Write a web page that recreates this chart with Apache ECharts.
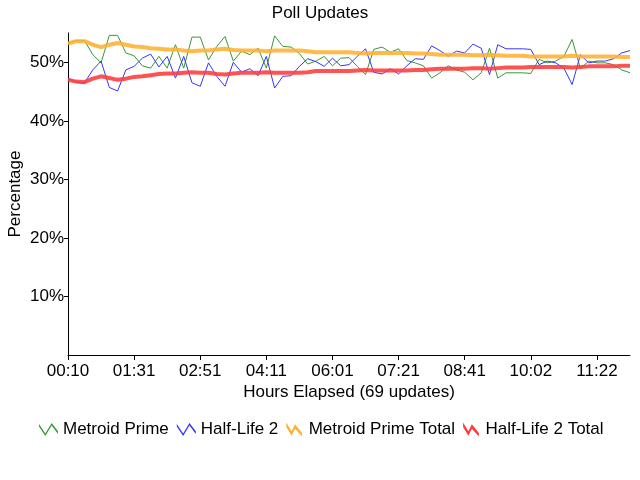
<!DOCTYPE html>
<html>
<head>
<meta charset="utf-8">
<script src="https://cdn.jsdelivr.net/npm/echarts@6/dist/echarts.min.js"></script>
<style>
html,body{margin:0;padding:0;background:#fff;}
#c{width:640px;height:480px;}
</style>
</head>
<body>
<div id="c"></div>
<script>
var timeLabels = [
 "00:10","00:20","00:30","00:40","00:50","01:00","01:10","01:20",
 "01:31","01:41","01:51","02:01","02:11","02:21","02:31","02:41",
 "02:51","03:01","03:11","03:21","03:31","03:41","03:51","04:01",
 "04:11","04:25","04:38","04:52","05:06","05:20","05:33","05:47",
 "06:01","06:11","06:21","06:31","06:41","06:51","07:01","07:11",
 "07:21","07:31","07:41","07:51","08:01","08:11","08:21","08:31",
 "08:41","08:51","09:01","09:11","09:21","09:31","09:41","09:51",
 "10:02","10:12","10:22","10:32","10:42","10:52","11:02","11:12",
 "11:22","11:32","11:42","11:52","12:02"
];
var metroidPrime = [
 53.3,53.7,53.7,51.3,49.9,54.6,54.6,51.6,51.1,49.4,
 49.0,51.0,49.0,53.0,49.0,54.3,54.3,50.4,52.7,54.4,
 50.2,51.9,51.3,52.4,49.0,54.5,52.7,52.6,51.5,49.7,
 50.2,51.0,49.4,50.7,50.8,49.3,47.9,52.2,52.6,51.7,
 52.3,50.3,49.9,49.4,47.3,48.2,49.4,48.7,48.3,47.0,
 48.2,52.4,47.3,48.2,48.2,48.2,48.1,50.5,49.9,50.2,
 51.0,53.9,48.9,50.2,49.9,49.9,49.6,48.7,48.2
];
var halfLife2 = [
 47.3,46.6,46.5,48.7,50.2,45.7,45.1,48.7,49.3,50.7,
 51.4,49.2,51.0,47.3,51.0,46.5,45.9,49.9,47.6,45.9,
 50.0,48.3,48.9,47.7,51.0,45.6,47.6,47.7,49.3,50.6,
 50.1,49.3,50.7,49.4,49.6,51.0,52.3,48.3,48.0,48.9,
 48.0,49.4,50.6,50.5,52.8,52.0,51.0,51.9,51.6,53.1,
 52.4,47.9,53.0,52.3,52.3,52.3,52.2,49.6,50.2,49.9,
 49.0,46.2,51.3,49.9,50.2,50.2,50.6,51.6,52.0
];
var metroidPrimeTotal = [
 53.2,53.6,53.6,53.0,52.6,53.0,53.3,53.0,52.7,52.6,
 52.4,52.3,52.2,52.2,52.0,51.9,52.0,52.0,52.2,52.3,
 52.1,52.0,52.0,52.0,51.9,52.0,52.0,52.0,52.0,51.9,
 51.7,51.7,51.7,51.7,51.7,51.6,51.5,51.6,51.6,51.6,
 51.6,51.6,51.5,51.5,51.4,51.3,51.3,51.3,51.3,51.2,
 51.2,51.3,51.2,51.1,51.1,51.1,51.0,51.0,51.0,51.0,
 51.0,51.1,51.0,51.0,51.0,51.0,51.0,50.9,50.9
];
var halfLife2Total = [
 47.0,46.7,46.6,47.2,47.6,47.3,47.0,47.2,47.5,47.6,
 47.8,48.0,48.1,48.1,48.2,48.3,48.2,48.2,48.0,47.9,
 48.1,48.2,48.2,48.2,48.3,48.2,48.2,48.2,48.2,48.3,
 48.5,48.5,48.5,48.5,48.5,48.6,48.7,48.6,48.6,48.6,
 48.6,48.6,48.7,48.7,48.8,48.9,48.9,48.9,48.9,49.0,
 49.0,48.9,49.0,49.1,49.1,49.1,49.2,49.2,49.2,49.2,
 49.2,49.1,49.2,49.3,49.3,49.3,49.3,49.4,49.4
];
var yTicks = [10, 20, 30, 40, 50];

var FONT = '"Liberation Sans",Arial,Helvetica,sans-serif';
var FS = 17;
var thinIcon = 'path://M0,3 L6,12 L12,2 L18,10 L18,12.5 L12,4.5 L6,14.5 L0,5.5 Z';
var thickIcon = 'path://M0,2 L6,12 L10,4 L18,14 L18,18 L10,9 L6,17 L0,7 Z';

var chart = echarts.init(document.getElementById('c'));
chart.setOption({
  animation: false,
  backgroundColor: '#fff',
  title: {
    text: 'Poll Updates', left: 'center', top: 0,
    textStyle: {fontFamily: FONT, fontSize: FS, fontWeight: 'normal', color: '#000'}
  },
  legend: {
    top: 416, left: 34, itemGap: 8, itemWidth: 19, itemHeight: 14,
    textStyle: {fontFamily: FONT, fontSize: FS, color: '#000'},
    data: [
      {name: 'Metroid Prime', icon: thinIcon},
      {name: 'Half-Life 2', icon: thinIcon},
      {name: 'Metroid Prime Total', icon: thickIcon},
      {name: 'Half-Life 2 Total', icon: thickIcon}
    ]
  },
  grid: {left: 68, right: 10, top: 33, bottom: 125, containLabel: false, outerBoundsMode: 'none'},
  xAxis: {
    type: 'category', data: timeLabels, boundaryGap: false,
    name: 'Hours Elapsed (69 updates)', nameLocation: 'middle', nameGap: 29,
    nameMoveOverlap: false,
    nameTextStyle: {fontFamily: FONT, fontSize: FS, color: '#000'},
    axisLine: {lineStyle: {color: '#000', width: 1}},
    axisTick: {show: true, interval: 7, length: 5, lineStyle: {color: '#000'}},
    axisLabel: {interval: 7, margin: 8, fontFamily: FONT, fontSize: FS, color: '#000'},
    splitLine: {show: false}
  },
  yAxis: {
    type: 'value', min: 0, max: 55, interval: 10,
    name: 'Percentage', nameLocation: 'middle', nameGap: 44,
    nameMoveOverlap: false,
    nameTextStyle: {fontFamily: FONT, fontSize: FS, color: '#000'},
    axisLine: {show: true, lineStyle: {color: '#000', width: 1}},
    axisTick: {show: true, length: 4, customValues: yTicks, lineStyle: {color: '#000'}},
    axisLabel: {margin: 4, customValues: yTicks, fontFamily: FONT, fontSize: FS, color: '#000',
      formatter: function (v) { return v + '%'; }},
    splitLine: {show: false}
  },
  series: [
    {name: 'Metroid Prime', type: 'line', data: metroidPrime, showSymbol: false, symbol: 'none',
     color: '#359a35', lineStyle: {width: 1, color: '#359a35'}},
    {name: 'Half-Life 2', type: 'line', data: halfLife2, showSymbol: false, symbol: 'none',
     color: '#3535ff', lineStyle: {width: 1, color: '#3535ff'}},
    {name: 'Metroid Prime Total', type: 'line', data: metroidPrimeTotal, showSymbol: false, symbol: 'none',
     color: '#ffb030', lineStyle: {width: 4, color: '#ffb030', opacity: 0.88}},
    {name: 'Half-Life 2 Total', type: 'line', data: halfLife2Total, showSymbol: false, symbol: 'none',
     color: '#ff3a3a', lineStyle: {width: 4, color: '#ff3a3a', opacity: 0.88}}
  ]
});
</script>
</body>
</html>
